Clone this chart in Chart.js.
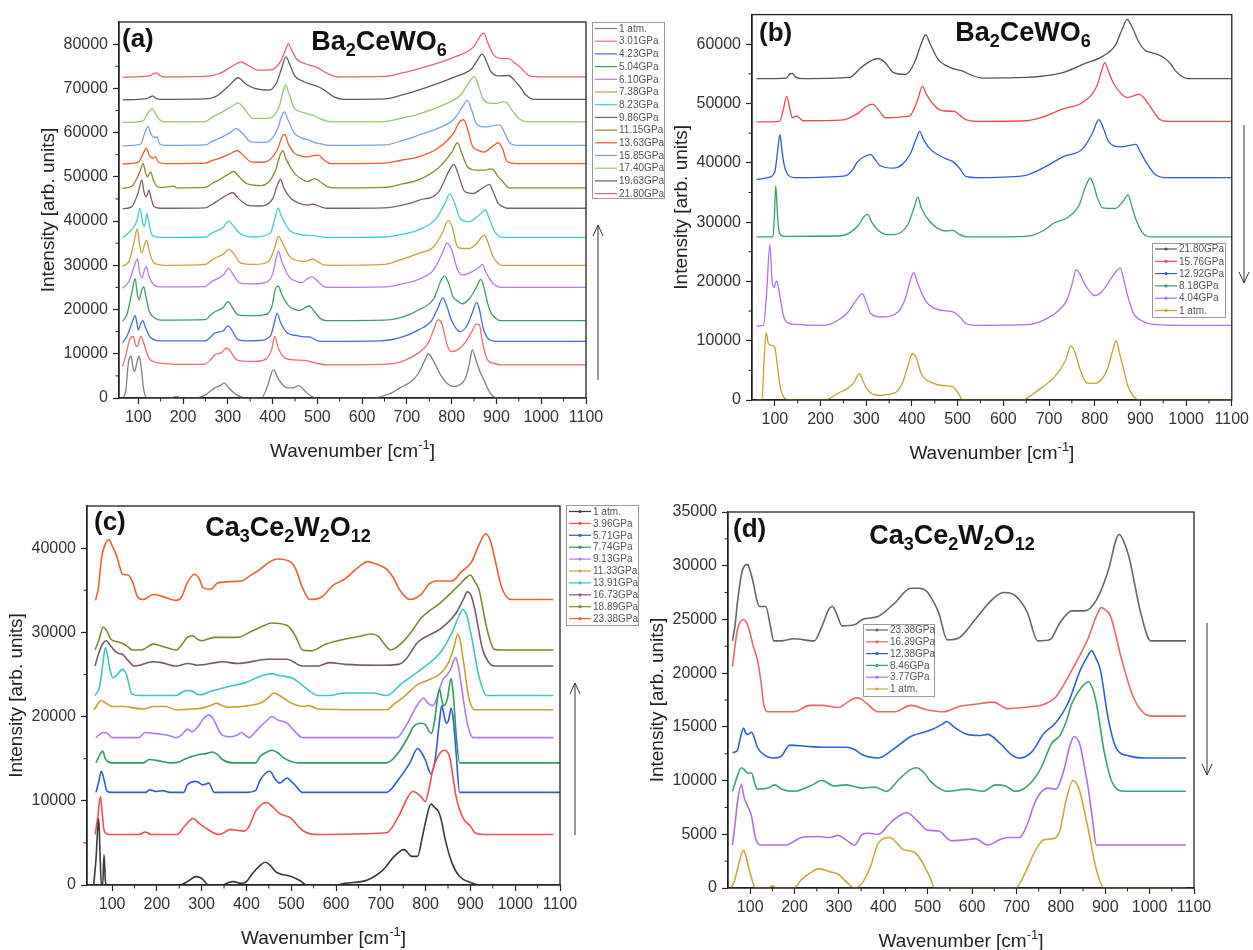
<!DOCTYPE html>
<html>
<head>
<meta charset="utf-8">
<script src="https://cdn.jsdelivr.net/npm/chart.js@4.4.1/dist/chart.umd.min.js"></script>
<style>
  body { margin: 0; background: #fff; width: 1253px; height: 950px; position: relative; overflow: hidden; }
  canvas { position: absolute; left: 0; top: 0; }
</style>
</head>
<body>
<canvas id="chartA" width="1253" height="950"></canvas>
<canvas id="chartB" width="1253" height="950"></canvas>
<canvas id="chartC" width="1253" height="950"></canvas>
<canvas id="chartD" width="1253" height="950"></canvas>
<script>
// ---- data: [wavenumber, intensity] ----

// (a) Ba2CeWO6, compression
const labelsA = ["1 atm.", "3.01GPa", "4.23GPa", "5.04GPa", "6.10GPa", "7.38GPa", "8.23GPa", "9.86GPa", "11.15GPa", "13.63GPa", "15.85GPa", "17.40GPa", "19.63GPa", "21.80GPa"];
const a_1atm = [[66,0],[72,1500],[78,8000],[84,9500],[88,7000],[92,6000],[97,8000],[102,9500],[107,6500],[112,2000],[120,0],[170,0],[185,300],[200,0],[230,0],[250,700],[271,2300],[283,2800],[292,3400],[302,2300],[320,700],[343,0],[375,0],[388,2500],[402,6400],[412,4500],[425,2700],[433,2300],[445,2300],[459,2800],[470,1800],[485,500],[498,0],[620,0],[660,900],[685,2300],[710,3800],[726,5600],[740,8500],[748,10000],[758,8600],[775,5300],[790,3300],[803,2600],[818,3000],[831,4500],[840,8000],[846,10900],[853,9000],[863,6000],[872,4100],[882,1800],[892,400],[905,0],[1100,0]];
const a_301 = [[65,7100],[72,9500],[82,13500],[89,13900],[94,12000],[98,11600],[102,13000],[106,14000],[112,12500],[124,9000],[135,8200],[149,7900],[200,7600],[246,7600],[262,8700],[271,9800],[285,10200],[297,11300],[304,10800],[320,8600],[340,8300],[360,8300],[385,8800],[398,11000],[405,13900],[412,11500],[428,9000],[450,8600],[470,8500],[482,8300],[500,7800],[522,7500],[644,7600],[690,8300],[726,10200],[748,12500],[760,15500],[770,17700],[778,16800],[790,12000],[799,10500],[815,11000],[830,12500],[845,15000],[855,16700],[862,16500],[868,13000],[880,8600],[895,7800],[912,7500],[1100,7500]];
const a_423 = [[65,12500],[75,14000],[86,17000],[93,18600],[97,17000],[100,15400],[106,17000],[110,17500],[116,16000],[125,14000],[135,13200],[150,12900],[250,12900],[262,13800],[271,14700],[290,15200],[300,16300],[308,15500],[323,13200],[345,12900],[370,13000],[395,14000],[404,17000],[410,19200],[418,17000],[433,14700],[455,14100],[470,13800],[482,13800],[495,13200],[506,12800],[640,12900],[690,13800],[726,15400],[755,17500],[770,20500],[780,22700],[790,20500],[799,17700],[810,15700],[819,15000],[835,16500],[847,19500],[856,21600],[862,20000],[870,16000],[880,13600],[900,12800],[1100,12800]];
const a_504 = [[65,17300],[75,19000],[86,24000],[93,27000],[98,23500],[102,22200],[108,24500],[112,25200],[117,23000],[125,19500],[135,18200],[150,17600],[250,17700],[262,18800],[271,19500],[290,20500],[300,21800],[310,20500],[323,18800],[350,18600],[380,18800],[398,20500],[406,24500],[413,25300],[420,23500],[437,20700],[450,20000],[461,19800],[472,20400],[482,20800],[494,19500],[506,18000],[520,17500],[650,17600],[690,18300],[726,19900],[760,22500],[776,26500],[784,27600],[793,26000],[803,22900],[815,21800],[823,21300],[840,22500],[855,25000],[865,26800],[872,25000],[880,21500],[888,19200],[900,17900],[908,17500],[1100,17500]];
const a_610 = [[65,24800],[80,26500],[90,29500],[98,31400],[103,28500],[108,27100],[114,29000],[118,29700],[124,27500],[137,25400],[150,25100],[250,25200],[262,26200],[271,26700],[290,27800],[302,29300],[310,28200],[327,26000],[350,25800],[380,26000],[400,28000],[408,31500],[413,33200],[420,31000],[437,27400],[455,26300],[466,26100],[478,27000],[488,27400],[500,26500],[514,25200],[530,25000],[650,25100],[690,25800],[726,26800],[760,29000],[778,32500],[790,35000],[800,33500],[813,29000],[825,27800],[845,28500],[860,29500],[869,30200],[876,28500],[885,27000],[892,25900],[905,25100],[912,25000],[1100,25000]];
const a_738 = [[65,29800],[80,31000],[90,35000],[98,38200],[103,34500],[108,32800],[115,35000],[119,35600],[124,33500],[130,31500],[139,30300],[160,30000],[250,30200],[262,31000],[271,31600],[290,32500],[303,33600],[312,32800],[329,30500],[360,30200],[390,30800],[405,34000],[413,36600],[420,35500],[439,31900],[460,31000],[474,30900],[484,31300],[490,31400],[500,30900],[514,30100],[530,30000],[650,30200],[685,31200],[726,32700],[760,34200],[780,37500],[792,40100],[800,39000],[813,34200],[825,33800],[839,33800],[855,34800],[866,36300],[873,36800],[880,35500],[892,32000],[905,30300],[912,30000],[1100,30000]];
const a_823 = [[65,36200],[80,37500],[97,40000],[104,42900],[110,39500],[114,38800],[119,41700],[123,40000],[130,37000],[140,36400],[150,36300],[250,36400],[262,37100],[271,37600],[290,38600],[302,40000],[310,39200],[327,37200],[360,36400],[395,37300],[405,40500],[412,43000],[418,41500],[437,38000],[460,37000],[490,36700],[520,36300],[650,36400],[690,37000],[726,38000],[765,40500],[785,44000],[796,46200],[805,44500],[819,40600],[830,40000],[839,39800],[855,40800],[868,42000],[876,42500],[884,40500],[896,37600],[905,36600],[912,36300],[1100,36300]];
const a_986 = [[65,42800],[85,43200],[100,46500],[108,49300],[113,46500],[118,45500],[124,47000],[128,45500],[135,43300],[150,42900],[250,43000],[265,43800],[279,44700],[300,46000],[311,46400],[322,45300],[344,43600],[370,43400],[400,45000],[412,48500],[418,49400],[425,47500],[441,45100],[460,44000],[478,43600],[490,43800],[505,43300],[520,42900],[650,43000],[690,43600],[726,44700],[770,46500],[795,51500],[805,52800],[815,50500],[827,47000],[840,46300],[847,46200],[865,47200],[879,48100],[884,48300],[892,46800],[904,44000],[915,43200],[924,42900],[1100,42900]];
const a_1115 = [[65,47400],[85,47800],[103,51000],[111,53000],[116,51000],[120,50000],[128,51100],[133,49500],[140,48000],[150,47600],[180,47900],[185,47500],[250,47600],[265,48500],[279,49200],[300,50500],[313,51200],[325,50000],[344,48400],[375,48000],[405,51000],[417,55000],[423,55900],[430,54000],[449,50800],[465,49500],[478,48900],[494,49600],[505,49000],[522,47800],[540,47500],[650,47600],[690,48400],[726,49300],[770,52000],[800,55500],[813,57700],[822,55500],[835,52300],[848,51600],[855,51500],[875,51500],[885,51800],[892,51700],[904,50000],[912,49200],[928,47500],[1100,47500]];
const a_1363 = [[65,52900],[100,53300],[112,55500],[118,56500],[125,54800],[133,54200],[139,54500],[145,53300],[160,53000],[250,53100],[265,53700],[279,54100],[305,55200],[321,55900],[335,54800],[352,53400],[380,53300],[410,56000],[421,59000],[427,59600],[435,57500],[449,55300],[465,54700],[478,54500],[490,54800],[502,54900],[515,53800],[530,53000],[650,53100],[690,53800],[726,54500],[770,56500],[805,60000],[818,62500],[827,62900],[835,61000],[847,56800],[860,56000],[872,55600],[890,56800],[904,57700],[913,56500],[924,53400],[945,53000],[1100,53000]];
const a_1585 = [[65,57000],[105,57400],[115,60000],[122,61400],[128,59800],[135,58900],[142,59000],[148,57400],[160,57100],[250,57200],[265,58000],[279,58600],[305,60000],[319,60900],[333,59800],[352,57900],[385,57800],[412,61000],[421,64000],[427,64700],[434,63000],[449,59800],[465,58800],[482,58300],[495,57700],[506,57500],[525,57100],[650,57200],[690,58200],[726,59400],[770,61000],[805,63000],[825,66000],[835,67300],[845,65000],[855,62000],[870,61300],[880,61300],[900,61700],[908,61700],[918,60000],[928,57900],[945,57100],[1100,57100]];
const a_1740 = [[65,62300],[110,62600],[122,64500],[131,65400],[140,64000],[149,62800],[160,62400],[250,62500],[265,63500],[279,64200],[310,66000],[323,66700],[336,65500],[356,63200],[392,63200],[415,66000],[424,69500],[429,70700],[436,69000],[449,65400],[470,64500],[490,63900],[505,63200],[522,62600],[540,62400],[650,62500],[690,63300],[726,64200],[780,66200],[820,68500],[840,71500],[851,72700],[860,70500],[872,67300],[890,66600],[900,66600],[915,67000],[924,66700],[935,65000],[949,63300],[969,62400],[1100,62400]];
const a_1963 = [[65,67400],[115,67600],[126,68000],[132,68300],[140,67700],[150,67500],[250,67600],[270,68000],[280,68600],[305,70800],[323,72400],[340,71000],[360,70000],[392,69600],[410,71500],[420,74500],[430,77100],[438,75500],[449,72900],[470,71500],[490,70800],[506,70200],[520,69300],[538,68000],[560,67500],[650,67600],[690,68500],[726,69600],[807,72600],[845,74500],[860,76800],[868,77800],[878,76000],[888,73700],[905,72800],[928,72900],[940,71800],[953,70300],[965,68600],[977,67700],[1000,67500],[1100,67500]];
const a_2180 = [[65,72500],[125,72800],[135,73400],[141,73500],[148,72900],[160,72600],[250,72700],[280,73300],[310,75000],[329,76000],[345,75200],[368,74100],[400,74300],[420,76500],[430,79000],[435,80100],[442,78800],[453,76700],[475,75500],[498,74800],[520,73500],[547,72600],[650,72700],[690,73500],[726,74400],[807,77100],[850,79500],[865,82000],[872,82500],[880,80500],[894,77500],[915,76700],[928,76700],[940,75800],[953,74800],[965,73500],[977,72700],[1000,72600],[1100,72600]];

// (b) Ba2CeWO6, decompression
const labelsB = ["21.80GPa", "15.76GPa", "12.92GPa", "8.18GPa", "4.04GPa", "1 atm."];
const b_2180 = [[60,54200],[125,54300],[133,55000],[138,55100],[145,54500],[160,54200],[263,54400],[289,56100],[310,57200],[325,57600],[340,57000],[360,55200],[386,54900],[405,56800],[420,60000],[430,61600],[440,60000],[457,57500],[483,56100],[510,55500],[530,54800],[554,54300],[650,54400],[730,55200],[774,56600],[818,58000],[845,59800],[860,62500],[871,64200],[880,63200],[897,60300],[910,59000],[924,58600],[940,58200],[950,57800],[965,56800],[977,55500],[990,54600],[1003,54200],[1100,54200]];
const b_1576 = [[60,46900],[110,47000],[118,48800],[126,51200],[133,49000],[138,47600],[148,47900],[162,47100],[245,47200],[281,48300],[300,49500],[314,49900],[328,48800],[342,47600],[395,47900],[412,50500],[423,52900],[432,51500],[457,49100],[480,48700],[492,48700],[505,48000],[518,47300],[540,47000],[650,47100],[686,47700],[730,49100],[774,50200],[805,53000],[815,55500],[822,56900],[830,55500],[840,53600],[860,51500],[871,51000],[885,51300],[897,51600],[905,51200],[915,50200],[930,48500],[941,47400],[960,47000],[1100,47000]];
const b_1292 = [[60,37200],[85,37500],[100,38500],[106,42000],[111,44800],[115,42500],[120,39800],[131,37800],[145,37500],[254,37800],[270,38800],[281,40200],[300,41200],[310,41400],[320,40500],[329,39600],[360,39100],[395,41300],[410,44200],[417,45300],[425,44000],[439,42400],[474,40700],[490,40200],[505,39000],[518,37700],[540,37500],[642,37800],[686,39100],[730,41000],[774,42400],[795,45000],[809,47300],[818,46000],[831,43500],[857,42700],[880,43000],[890,43100],[900,41800],[915,39800],[933,38000],[960,37500],[1100,37500]];
const b_818 = [[60,27500],[96,27500],[99,31000],[102,36100],[106,31000],[110,28200],[120,27600],[245,27700],[281,29300],[295,30900],[303,31300],[312,30000],[325,28700],[345,27900],[360,27900],[391,29600],[405,32500],[413,34200],[420,32500],[439,30100],[474,28500],[490,28600],[502,28000],[520,27500],[650,27600],[686,28500],[712,29900],[739,30700],[766,32900],[780,36000],[790,37400],[798,36200],[805,34300],[818,32400],[845,32300],[862,33500],[873,34600],[880,33000],[889,30700],[905,28200],[925,27500],[1100,27500]];
const b_404 = [[60,12500],[75,12600],[82,18000],[89,26300],[94,20000],[98,19000],[104,20100],[110,18000],[118,14500],[126,13100],[140,12800],[210,12600],[237,13400],[260,14800],[275,16500],[292,17900],[300,16500],[310,14600],[333,14000],[369,14800],[385,17000],[395,19800],[404,21500],[412,19800],[430,16700],[466,15100],[480,15000],[492,14800],[505,14000],[518,12900],[540,12600],[650,12700],[686,13400],[721,15100],[740,17000],[752,20000],[759,22000],[768,21200],[780,19300],[800,17600],[815,18200],[830,19800],[848,21800],[856,22300],[863,20500],[871,17900],[885,14600],[900,13500],[924,12800],[1000,12600],[1100,12600]];
const b_1atm = [[60,0],[72,0],[76,6000],[81,11400],[86,9500],[94,9200],[100,8800],[106,5500],[113,1700],[122,300],[130,0],[210,0],[237,1100],[260,2000],[272,2800],[285,4400],[293,3200],[302,1800],[325,800],[360,1100],[380,3000],[392,6000],[401,7800],[409,7200],[420,4500],[448,2800],[470,2400],[488,2300],[500,1300],[512,0],[640,0],[677,1700],[712,3900],[735,6500],[748,9100],[757,8000],[766,5600],[783,2900],[800,2800],[815,3500],[827,5000],[840,8500],[847,10000],[854,8000],[862,5600],[872,2500],[883,800],[897,0],[1100,0]];

// (c) Ca3Ce2W2O12, compression
const labelsC = ["1 atm.", "3.96GPa", "5.71GPa", "7.74GPa", "9.13GPa", "11.33GPa", "13.91GPa", "16.73GPa", "18.89GPa", "23.38GPa"];
const c_1atm = [[59,0],[64,3000],[70,7900],[73,4000],[76,0],[79,0],[82,3600],[85,500],[88,0],[250,0],[265,300],[288,1000],[300,800],[316,0],[346,0],[360,300],[371,400],[388,200],[400,400],[414,1400],[430,2300],[442,2700],[452,2400],[465,1600],[500,1000],[520,500],[534,0],[600,0],[619,200],[670,600],[705,1800],[730,3400],[752,4200],[769,3400],[782,3400],[792,5500],[799,7300],[812,9600],[820,9200],[829,8700],[836,7500],[842,5800],[859,2600],[876,1000],[900,300],[919,0],[1085,0]];
const c_396 = [[62,6000],[68,8000],[74,10500],[78,8500],[82,6500],[93,6000],[160,6000],[174,6300],[188,6000],[245,6000],[262,7000],[281,7900],[295,7300],[311,6700],[337,6000],[350,6200],[363,6600],[380,6500],[395,6400],[405,6900],[422,8900],[446,9800],[460,9200],[474,8500],[500,7900],[515,7000],[525,6500],[551,6000],[713,6200],[739,8100],[758,10200],[771,11100],[790,10500],[799,9900],[808,11500],[816,13700],[830,15500],[842,16000],[850,15700],[855,14900],[868,10500],[884,7900],[900,7000],[910,6200],[930,6000],[1085,6000]];
const c_571 = [[64,11000],[70,12200],[76,13500],[82,12500],[89,11100],[100,11000],[175,11000],[183,11300],[200,11100],[212,11200],[230,11000],[260,11000],[268,11900],[288,12300],[303,11900],[316,12100],[328,11000],[400,11000],[420,11200],[431,12500],[452,13500],[465,12500],[474,12100],[491,12700],[500,12300],[508,11900],[525,11000],[713,11000],[739,12500],[765,14500],[782,16200],[790,15800],[799,14900],[812,13200],[820,14500],[825,16500],[830,19000],[836,21300],[841,20200],[846,19200],[851,19500],[857,21000],[862,19500],[868,15700],[876,11000],[1100,11000]];
const c_774 = [[64,14500],[72,15400],[79,15900],[85,15000],[89,14700],[100,14500],[170,14500],[183,14900],[200,14800],[230,14500],[250,14600],[260,14900],[294,15500],[310,15600],[324,15800],[335,15500],[346,14900],[370,14500],[420,14500],[431,15300],[450,15900],[457,16000],[470,15700],[483,15100],[517,14500],[713,14500],[739,15700],[760,17500],[773,18800],[790,19200],[800,19000],[807,18300],[813,18000],[820,19500],[825,21600],[831,23300],[836,22000],[840,21300],[848,22000],[857,24500],[862,22500],[868,18000],[876,14500],[1100,14500]];
const c_913 = [[64,17500],[70,17800],[80,18100],[90,18000],[100,17500],[160,17500],[174,18100],[192,18000],[210,17900],[230,17700],[243,17500],[255,17800],[268,18500],[278,18200],[290,18700],[305,19800],[316,20200],[325,19800],[340,18200],[346,17800],[365,17600],[380,17800],[388,18100],[397,17800],[405,17500],[420,18200],[431,18800],[445,19500],[457,20000],[470,19600],[483,19400],[492,19200],[500,18700],[512,18000],[525,17500],[735,17500],[756,18900],[775,20800],[787,21800],[795,22200],[805,21600],[816,21300],[825,22200],[833,23600],[840,24500],[846,24800],[855,25500],[867,27000],[873,26000],[880,23600],[893,19200],[906,17500],[1085,17500]];
const c_1133 = [[60,20800],[68,21500],[76,21900],[86,21600],[100,21200],[130,21200],[150,21000],[170,20900],[192,21200],[220,21200],[243,20800],[280,20900],[300,21000],[320,21300],[333,21600],[345,21300],[360,21100],[405,21300],[431,21600],[450,22300],[461,22800],[480,22300],[500,21600],[525,21200],[540,21300],[560,20900],[713,20800],[730,21500],[748,22200],[765,23000],[782,23800],[805,24300],[825,24800],[840,25500],[851,26400],[862,28000],[872,29800],[878,28800],[884,26700],[897,22100],[910,20800],[1085,20800]];
const c_1391 = [[62,22500],[72,23500],[80,26500],[85,28200],[90,27200],[96,25400],[102,24600],[110,24900],[123,25600],[132,25000],[144,22700],[160,22500],[243,22500],[260,23000],[268,23100],[280,23000],[292,22600],[300,22600],[320,23000],[363,23600],[397,24000],[431,24800],[445,25000],[457,25100],[470,24900],[483,24800],[500,24600],[508,24400],[530,23500],[559,22500],[585,22500],[620,22800],[680,22800],[713,22500],[748,24000],[790,25600],[833,27600],[859,30000],[875,32000],[883,32700],[892,32000],[902,29600],[919,24800],[936,22500],[1085,22500]];
const c_1673 = [[62,26000],[70,27500],[80,28700],[87,29000],[95,28500],[106,27800],[115,27500],[123,27400],[135,26700],[149,26000],[192,26500],[210,26400],[243,26000],[270,26300],[290,26100],[330,26400],[346,26500],[380,26300],[448,26800],[491,26800],[525,26000],[560,26000],[585,26400],[620,26200],[700,26100],[740,26200],[756,26800],[782,28800],[805,29600],[833,30400],[868,32300],[885,34000],[893,34800],[902,34300],[910,32700],[927,28000],[940,26500],[953,26000],[1085,26000]];
const c_1889 = [[62,27900],[70,29000],[80,30600],[88,30200],[97,29200],[110,28900],[123,28700],[135,28300],[145,27900],[165,27900],[192,28600],[215,28300],[243,27900],[255,28500],[268,29400],[280,29600],[290,29200],[300,29000],[328,29400],[380,29400],[414,30200],[440,30800],[455,31100],[491,30800],[510,29500],[525,27900],[545,27800],[577,28600],[619,29200],[650,29500],[679,29800],[695,29500],[705,28800],[722,27900],[748,28800],[770,30200],[790,31700],[833,33500],[876,35700],[893,36600],[900,36800],[910,36000],[919,35100],[936,30600],[953,28000],[970,27900],[1085,27900]];
const c_2338 = [[63,33800],[70,35500],[76,38700],[85,40500],[93,41000],[100,40300],[110,39100],[117,37800],[123,36900],[136,36800],[147,35800],[157,34200],[170,33900],[192,34500],[210,34300],[243,33800],[255,34200],[268,35900],[284,36900],[295,36300],[303,35300],[320,35100],[337,35900],[388,36100],[410,36800],[431,37500],[450,38300],[470,38700],[500,38300],[510,37500],[525,35300],[542,33900],[568,34200],[594,35600],[619,36300],[640,37300],[654,37900],[670,38400],[690,38100],[713,37500],[730,36300],[739,35300],[765,33900],[790,34500],[807,35700],[825,36100],[859,36100],[880,37200],[902,38300],[920,40500],[934,41700],[945,40800],[953,39100],[970,35300],[991,33900],[1085,33900]];

// (d) Ca3Ce2W2O12, decompression
const labelsD = ["23.38GPa", "16.39GPa", "12.38GPa", "8.46GPa", "3.77GPa", "1 atm."];
const d_2338 = [[60,23000],[66,24500],[71,26500],[82,29500],[94,30100],[100,29500],[107,28400],[115,26800],[121,26200],[135,26200],[145,24500],[153,23000],[171,23000],[198,23200],[244,23000],[262,24400],[278,26000],[285,26200],[295,25500],[307,24400],[335,24500],[353,25000],[389,25300],[425,26500],[462,27900],[480,27900],[498,27600],[515,26500],[525,25600],[544,23100],[571,23300],[607,25000],[644,26800],[671,27500],[690,27400],[707,26800],[725,25600],[748,23000],[775,23100],[798,24700],[825,25800],[853,25800],[880,26800],[907,29600],[925,32500],[932,32900],[940,32400],[953,30900],[980,25600],[1003,23000],[1082,23000]];
const d_1639 = [[60,20600],[71,24000],[78,24800],[85,25000],[92,24700],[98,24000],[107,22500],[116,21300],[125,19000],[130,17200],[139,16400],[198,16400],[235,17000],[262,17000],[298,16800],[320,17300],[339,17700],[350,17600],[362,17200],[389,16400],[425,16400],[462,17000],[498,16600],[535,16400],[571,16900],[607,17100],[648,17300],[680,16700],[716,16800],[762,17100],[789,17800],[825,20300],[862,23300],[880,25300],[891,26100],[900,25900],[912,25300],[935,21600],[962,17900],[989,16200],[1007,16000],[1082,16000]];
const d_1238 = [[60,12600],[71,12800],[78,14000],[85,14900],[90,14400],[94,14300],[103,14500],[110,13900],[116,13100],[135,12300],[153,12100],[171,12300],[189,13300],[225,13200],[262,13100],[316,13100],[335,12900],[353,12400],[389,12100],[425,13000],[462,14100],[507,14700],[535,15300],[542,15500],[562,14900],[589,14300],[616,14200],[635,14300],[662,13500],[689,12400],[707,12100],[735,12700],[762,14400],[789,15400],[816,17200],[844,20300],[862,21700],[869,22100],[880,21300],[889,20300],[907,15700],[925,13000],[953,12300],[989,12100],[1082,12100]];
const d_846 = [[60,9000],[71,10400],[80,11200],[87,11000],[94,10700],[103,10700],[110,9800],[116,9200],[140,9300],[155,9600],[171,9200],[200,9000],[235,9500],[262,10000],[289,9500],[316,9600],[353,9300],[380,9400],[407,9000],[435,10100],[460,11000],[475,11200],[490,10800],[507,9900],[525,9300],[544,9000],[589,9200],[625,9000],[653,9600],[675,9500],[698,9000],[725,9500],[753,11000],[780,13500],[798,14200],[812,15500],[825,17200],[845,18600],[862,19200],[872,18500],[880,17200],[898,12600],[916,9800],[944,9000],[1082,9000]];
const d_377 = [[60,4000],[66,6000],[71,7900],[80,9600],[86,8500],[91,7900],[103,6700],[110,5000],[116,4200],[125,4000],[180,4000],[216,4700],[253,4800],[280,4700],[298,4900],[315,4500],[335,4000],[353,5000],[366,5100],[389,5000],[410,5800],[425,6400],[453,7000],[480,6100],[498,5400],[525,5300],[553,4400],[589,4500],[607,4600],[635,4000],[662,4500],[680,4700],[707,4700],[725,6000],[740,7800],[753,8800],[771,9300],[789,9200],[807,11000],[820,13200],[830,14100],[844,13200],[852,11500],[862,9200],[871,6500],[880,4000],[1082,4000]];
const d_1atm = [[57,0],[65,700],[71,1700],[85,3500],[98,1700],[112,0],[140,0],[150,200],[160,0],[198,0],[216,800],[235,1400],[255,1800],[280,1500],[298,1300],[316,600],[335,0],[353,500],[371,2000],[389,4200],[415,4700],[430,4200],[444,3600],[471,3300],[489,2300],[505,1000],[516,0],[698,0],[716,1100],[744,3600],[762,4500],[785,4600],[798,5400],[812,8200],[827,10000],[836,9700],[844,8800],[862,5400],[880,1700],[898,0],[1082,0]];

// tick values
const xTicks = [100, 200, 300, 400, 500, 600, 700, 800, 900, 1000, 1100];
const yTicksA = [0, 10000, 20000, 30000, 40000, 50000, 60000, 70000, 80000];
const yTicksB = [0, 10000, 20000, 30000, 40000, 50000, 60000];
const yTicksC = [0, 10000, 20000, 30000, 40000];
const yTicksD = [0, 5000, 10000, 15000, 20000, 25000, 30000, 35000];

// ---- styling ----
const FONT = "'Liberation Sans', Arial, sans-serif";
const Y_AXIS_W = 62;
const X_AXIS_H = 40;

const colorsA = ["#7f7f7f", "#f06c6c", "#3d6fd9", "#3a9d5d", "#b57be6", "#c9a23c", "#3fcfcf", "#7e5c66", "#868c2c", "#f0582a", "#77a3e0", "#8fcb6b", "#5d5d5d", "#e8636b"];
const colorsB = ["#555555", "#ec4a50", "#2b5fd6", "#35a064", "#b06fe6", "#c9a02a"];
const colorsC = ["#3a3a3a", "#f24f4f", "#2a5ed7", "#2f9a5c", "#b27ae6", "#c9a035", "#3cc6c6", "#7a5868", "#7c8a2e", "#f0602e"];
const colorsD = ["#666666", "#f06565", "#2c62d8", "#3aa56e", "#b06de8", "#d1a540"];

function drawRich(ctx, segs, x, y, size, align) {
    const sub = Math.round(size * 0.68);
    const fontOf = s => (s[1] ? sub : size);
    let total = 0;
    segs.forEach(s => { ctx.font = "bold " + fontOf(s) + "px " + FONT; total += ctx.measureText(s[0]).width; });
    let cx = align === "center" ? x - total / 2 : x;
    ctx.textAlign = "left";
    ctx.textBaseline = "alphabetic";
    segs.forEach(s => {
        ctx.font = "bold " + fontOf(s) + "px " + FONT;
        ctx.fillText(s[0], cx, y + (s[1] ? size * 0.22 : 0));
        cx += ctx.measureText(s[0]).width;
    });
}

function decorPlugin(p) {
    return {
        id: "decor",
        afterDraw(chart) {
            const ctx = chart.ctx;
            const ca = chart.chartArea;
            const xs = chart.scales.x;
            const ys = chart.scales.y;
            ctx.save();

            // frame
            ctx.strokeStyle = "#222";
            ctx.lineWidth = 1.3;
            ctx.strokeRect(ca.left, ca.top, ca.right - ca.left, ca.bottom - ca.top);

            // minor ticks
            ctx.lineWidth = 1;
            ctx.beginPath();
            for (let v = 150; v < p.xMax; v += 100) {
                if (v <= p.xMin) continue;
                const px = xs.getPixelForValue(v);
                ctx.moveTo(px, ca.bottom);
                ctx.lineTo(px, ca.bottom + 3.5);
            }
            const half = p.yTicks[1] / 2;
            for (let v = half; v < p.yMax; v += p.yTicks[1]) {
                const py = ys.getPixelForValue(v);
                ctx.moveTo(ca.left, py);
                ctx.lineTo(ca.left - 3.5, py);
            }
            ctx.stroke();

            // axis titles
            ctx.fillStyle = "#222";
            ctx.font = "19px " + FONT;
            ctx.textAlign = "center";
            ctx.textBaseline = "middle";
            ctx.save();
            ctx.translate(ca.left - 70, (ca.top + ca.bottom) / 2);
            ctx.rotate(-Math.PI / 2);
            ctx.fillText("Intensity [arb. units]", 0, 0);
            ctx.restore();

            const xt = "Wavenumber [cm";
            const cx = (ca.left + ca.right) / 2;
            const ty = ca.bottom + 59;
            ctx.font = "19px " + FONT;
            const w1 = ctx.measureText(xt).width;
            ctx.font = "13px " + FONT;
            const w2 = ctx.measureText("-1").width;
            ctx.font = "19px " + FONT;
            const w3 = ctx.measureText("]").width;
            let sx = cx - (w1 + w2 + w3) / 2;
            ctx.textAlign = "left";
            ctx.textBaseline = "alphabetic";
            ctx.fillText(xt, sx, ty);
            ctx.font = "13px " + FONT;
            ctx.fillText("-1", sx + w1, ty - 8);
            ctx.font = "19px " + FONT;
            ctx.fillText("]", sx + w1 + w2, ty);

            // panel tag and compound
            ctx.fillStyle = "#111";
            ctx.font = "bold 26px " + FONT;
            ctx.fillText(p.tag, p.tagX, p.tagY);
            drawRich(ctx, p.formula, p.formulaX, p.formulaY, 27, "center");

            // legend
            const L = p.legend;
            ctx.fillStyle = "#fff";
            ctx.fillRect(L.x, L.y, L.w, L.h);
            ctx.strokeStyle = "#9a9a9a";
            ctx.lineWidth = 1;
            ctx.strokeRect(L.x + 0.5, L.y + 0.5, L.w, L.h);
            ctx.font = "10px " + FONT;
            ctx.textBaseline = "middle";
            p.legendLabels.forEach((lab, i) => {
                const ry = L.y + L.first + i * L.row;
                ctx.strokeStyle = p.legendColors[i];
                ctx.lineWidth = 1.2;
                ctx.beginPath();
                ctx.moveTo(L.x + 3, ry);
                ctx.lineTo(L.x + 25, ry);
                ctx.stroke();
                if (L.dot) {
                    ctx.fillStyle = p.legendColors[i];
                    ctx.beginPath();
                    ctx.arc(L.x + 14, ry, 1.6, 0, Math.PI * 2);
                    ctx.fill();
                }
                ctx.fillStyle = "#555";
                ctx.fillText(lab, L.x + 27, ry + 0.5);
            });

            // pressure arrow
            const A = p.arrow;
            ctx.strokeStyle = "#333";
            ctx.lineWidth = 1;
            ctx.beginPath();
            ctx.moveTo(A.x, A.from);
            ctx.lineTo(A.x, A.to);
            const dir = A.to < A.from ? 1 : -1;
            ctx.moveTo(A.x - 5, A.to + dir * 11);
            ctx.lineTo(A.x, A.to);
            ctx.lineTo(A.x + 5, A.to + dir * 11);
            ctx.stroke();

            ctx.restore();
        }
    };
}

function makePanel(p) {
    const datasets = p.series.map((s, i) => ({
        label: p.labels[i],
        data: s.map(pt => ({ x: pt[0], y: pt[1] })),
        borderColor: p.colors[i],
        borderWidth: p.lineWidth,
        pointRadius: 0,
        fill: false,
        cubicInterpolationMode: "monotone"
    }));
    new Chart(document.getElementById(p.canvas), {
        type: "line",
        data: { datasets: datasets },
        options: {
            responsive: false,
            animation: false,
            devicePixelRatio: 1,
            events: [],
            layout: {
                padding: {
                    left: p.left - Y_AXIS_W,
                    right: 1253 - p.right,
                    top: p.top,
                    bottom: 950 - p.bottom - X_AXIS_H
                }
            },
            plugins: { legend: { display: false }, tooltip: { enabled: false } },
            scales: {
                x: {
                    type: "linear",
                    min: p.xMin,
                    max: p.xMax,
                    afterBuildTicks: s => { s.ticks = xTicks.map(v => ({ value: v })); },
                    afterFit: s => { s.height = X_AXIS_H; },
                    grid: { drawOnChartArea: false, drawTicks: true, tickLength: 6, tickColor: "#222", tickWidth: 1.2 },
                    border: { display: true, color: "#222", width: 1.3 },
                    ticks: { font: { family: FONT, size: 16 }, color: "#333", padding: 4, maxRotation: 0, autoSkip: false, callback: v => String(v) }
                },
                y: {
                    type: "linear",
                    min: 0,
                    max: p.yMax,
                    afterBuildTicks: s => { s.ticks = p.yTicks.map(v => ({ value: v })); },
                    afterFit: s => { s.width = Y_AXIS_W; },
                    grid: { drawOnChartArea: false, drawTicks: true, tickLength: 6, tickColor: "#222", tickWidth: 1.2 },
                    border: { display: true, color: "#222", width: 1.3 },
                    ticks: { font: { family: FONT, size: 16 }, color: "#333", padding: 5, callback: v => String(v) }
                }
            }
        },
        plugins: [decorPlugin(p)]
    });
}

makePanel({
    canvas: "chartA", left: 119, right: 586, top: 22, bottom: 398,
    xMin: 57, xMax: 1100, yMax: 85000, yTicks: yTicksA, lineWidth: 1.3,
    series: [a_1atm, a_301, a_423, a_504, a_610, a_738, a_823, a_986, a_1115, a_1363, a_1585, a_1740, a_1963, a_2180],
    labels: labelsA, colors: colorsA,
    legendLabels: labelsA, legendColors: colorsA,
    legend: { x: 592, y: 22, w: 72, h: 176, first: 6.5, row: 12.7, dot: false },
    tag: "(a)", tagX: 122, tagY: 47,
    formula: [["Ba", 0], ["2", 1], ["CeWO", 0], ["6", 1]], formulaX: 379, formulaY: 50,
    arrow: { x: 598, from: 380, to: 225 }
});

makePanel({
    canvas: "chartB", left: 752, right: 1234, top: 13, bottom: 400,
    xMin: 50, xMax: 1100, yMax: 65000, yTicks: yTicksB, lineWidth: 1.3,
    series: [b_2180, b_1576, b_1292, b_818, b_404, b_1atm],
    labels: labelsB, colors: colorsB,
    legendLabels: labelsB, legendColors: colorsB,
    legend: { x: 1152, y: 243, w: 73, h: 74, first: 6, row: 12.3, dot: true },
    tag: "(b)", tagX: 759, tagY: 41,
    formula: [["Ba", 0], ["2", 1], ["CeWO", 0], ["6", 1]], formulaX: 1023, formulaY: 41,
    arrow: { x: 1244, from: 125, to: 283 }
});

makePanel({
    canvas: "chartC", left: 87, right: 560, top: 506, bottom: 885,
    xMin: 44, xMax: 1100, yMax: 45000, yTicks: yTicksC, lineWidth: 1.6,
    series: [c_1atm, c_396, c_571, c_774, c_913, c_1133, c_1391, c_1673, c_1889, c_2338],
    labels: labelsC, colors: colorsC,
    legendLabels: labelsC, legendColors: colorsC,
    legend: { x: 566, y: 505, w: 72, h: 120, first: 6.5, row: 11.9, dot: true },
    tag: "(c)", tagX: 94, tagY: 530,
    formula: [["Ca", 0], ["3", 1], ["Ce", 0], ["2", 1], ["W", 0], ["2", 1], ["O", 0], ["12", 1]], formulaX: 288, formulaY: 536,
    arrow: { x: 575, from: 835, to: 683 }
});

makePanel({
    canvas: "chartD", left: 728, right: 1194, top: 512, bottom: 888,
    xMin: 50, xMax: 1100, yMax: 35000, yTicks: yTicksD, lineWidth: 1.6,
    series: [d_2338, d_1639, d_1238, d_846, d_377, d_1atm],
    labels: labelsD, colors: colorsD,
    legendLabels: labelsD, legendColors: colorsD,
    legend: { x: 863, y: 624, w: 71, h: 72, first: 6, row: 11.8, dot: true },
    tag: "(d)", tagX: 733, tagY: 537,
    formula: [["Ca", 0], ["3", 1], ["Ce", 0], ["2", 1], ["W", 0], ["2", 1], ["O", 0], ["12", 1]], formulaX: 952, formulaY: 544,
    arrow: { x: 1207, from: 623, to: 775 }
});
</script>
</body>
</html>
